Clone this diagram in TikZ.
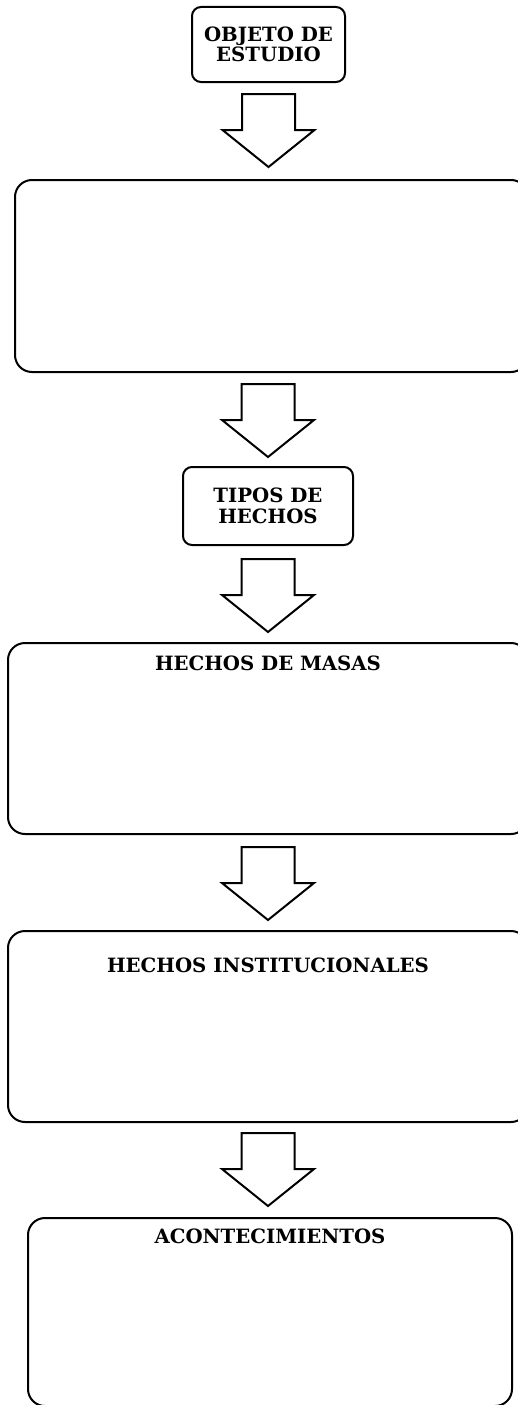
\documentclass[tikz,border=0pt]{standalone}
\usepackage{fontspec}
\setmainfont{DejaVu Serif}
\usetikzlibrary{calc,positioning}

\newcommand{\titulo}{\bfseries\fontsize{19.7}{20.5}\selectfont}
\tikzset{
  caja/.style={draw, line width=2pt, rounded corners=17pt, inner sep=0pt},
  cajita/.style={draw, line width=2pt, rounded corners=9pt, inner sep=0pt, align=center, font=\titulo},
  titulo/.style={inner sep=0pt, anchor=base, font=\titulo},
  flecha/.pic={\draw[line width=2pt, line join=miter, fill=white] (-26.5,0) -- (26.5,0) -- (26.5,36) -- (46,36) -- (0,73) -- (-46,36) -- (-26.5,36) -- cycle;}
}

\begin{document}
\begin{tikzpicture}[x=1pt, y=-1pt]
\useasboundingbox (0,0) rectangle (518,1405);
% define small boxes
\node[cajita, minimum width=153pt, minimum height=75pt] (objeto) at (268.5,44.5) {OBJETO DE\\ESTUDIO};
\node[cajita, minimum width=170pt, minimum height=78pt] (tipos) at (268,506) {TIPOS DE\\HECHOS};
% define big boxes
\node[caja, minimum width=513pt, minimum height=192pt] (vacia) at (271.5,276) {};
\node[caja, minimum width=520pt, minimum height=191pt] (masas) at (268,738.5) {};
\node[caja, minimum width=520pt, minimum height=191pt] (inst) at (268,1026.5) {};
\node[caja, minimum width=484pt, minimum height=188pt] (acont) at (270,1312) {};

% titles of big boxes
\node[titulo] (masast) at ($(masas.north)+(0,28)$) {HECHOS DE MASAS};
\node[titulo] (instt) at ($(inst.north)+(0,42)$) {HECHOS INSTITUCIONALES};
\node[titulo] (acontt) at ($(acont.north)+(0,26)$) {ACONTECIMIENTOS};

% block arrows
\pic at ($(objeto.south)+(0,11)$) {flecha};
\pic at ($(vacia.south -| tipos.north)+(0,11)$) {flecha};
\pic at ($(tipos.south)+(0,13)$) {flecha};
\pic at ($(masas.south)+(0,12)$) {flecha};
\pic at ($(inst.south)+(0,10)$) {flecha};
\end{tikzpicture}
\end{document}
